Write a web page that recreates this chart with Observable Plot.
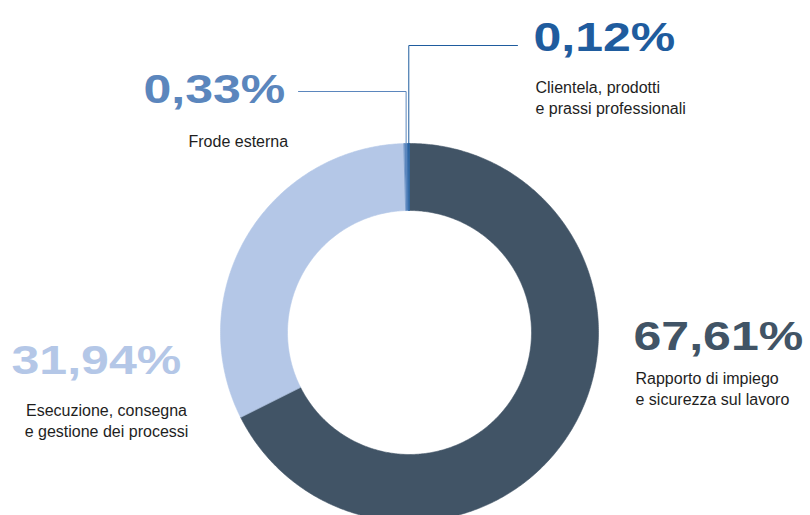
<!DOCTYPE html>
<html><head><meta charset="utf-8">
<script src="https://cdn.jsdelivr.net/npm/d3@7"></script>
<script src="https://cdn.jsdelivr.net/npm/@observablehq/plot@0.6"></script>
<style>body{margin:0;background:#fff;overflow:hidden;}</style>
</head><body><div id="chart"></div>
<script>
// ---- data ----
const categories = [
  "Rapporto di impiego\ne sicurezza sul lavoro",
  "Esecuzione, consegna\ne gestione dei processi",
  "Frode esterna",
  "Clientela, prodotti\ne prassi professionali"
];
const values = [67.61, 31.94, 0.33, 0.12];
const valueLabels = values.map(v => v.toFixed(2).replace(".", ",") + "%");

// ---- styles / layout ----
const colors = ["#415466", "#b4c7e7", "#5b86bd", "#1f5c9e"];
const W = 810, H = 515;
const cx = 409, cy = 332;
const R = 189, r = 122;
const bigStretch = 1.22;
const bigPos = [{x: 633, y: 349}, {x: 11, y: 373}, {x: 143, y: 102}, {x: 533, y: 50}];
const catPos = [
  {x: 635, y: 404, anchor: "start"},
  {x: 106, y: 436, anchor: "middle"},
  {x: 188, y: 146, anchor: "start"},
  {x: 535, y: 113, anchor: "start"}
];
const leaderLayout = {2: {y: 91, x: 298}, 3: {y: 45, x: 517}};

// ---- geometry from data ----
const arcs = d3.pie().sort(null).startAngle(0).endAngle(2 * Math.PI)(values);
const ringPts = [];
arcs.forEach((p, i) => {
  const n = Math.max(2, Math.ceil((p.endAngle - p.startAngle) / 0.01));
  const as = d3.range(n + 1).map(k => p.startAngle + (p.endAngle - p.startAngle) * k / n);
  as.forEach(a => ringPts.push({i, x: R * Math.sin(a), y: -R * Math.cos(a)}));
  as.slice().reverse().forEach(a => ringPts.push({i, x: r * Math.sin(a), y: -r * Math.cos(a)}));
});
const leaderPts = [];
Object.entries(leaderLayout).forEach(([k, L]) => {
  const i = +k, p = arcs[i];
  const a = (p.startAngle + p.endAngle) / 2;
  const sx = R * Math.sin(a), sy = -R * Math.cos(a);
  leaderPts.push({i, x: sx, y: sy}, {i, x: sx, y: L.y - cy}, {i, x: L.x - cx, y: L.y - cy});
});

const idx = d3.range(values.length);
const startIdx = idx.filter(i => catPos[i].anchor === "start");
const midIdx = idx.filter(i => catPos[i].anchor === "middle");

const chart = Plot.plot({
  width: W, height: H,
  margin: 0,
  style: {background: "#fff", overflow: "hidden"},
  x: {domain: [-cx, W - cx], range: [0, W], axis: null},
  y: {domain: [-cy, H - cy], range: [0, H], axis: null},
  color: {type: "ordinal", domain: idx, range: colors},
  marks: [
    Plot.line(ringPts, {x: "x", y: "y", z: "i", fill: "i", stroke: "i", strokeWidth: 0.6, curve: "linear-closed"}),
    Plot.line(leaderPts, {x: "x", y: "y", z: "i", stroke: "i", strokeWidth: 1}),
    Plot.text(idx, {
      x: i => bigPos[i].x - cx, y: i => bigPos[i].y - cy,
      text: i => valueLabels[i], fill: i => i,
      textAnchor: "start", lineAnchor: "bottom",
      fontSize: 41, fontFamily: "Liberation Sans, Arial, sans-serif", fontWeight: "bold"
    }),
    Plot.text(startIdx, {
      x: i => catPos[i].x - cx, y: i => catPos[i].y - cy,
      text: i => categories[i], fill: "#1e1e1e",
      textAnchor: "start", lineAnchor: "bottom", lineHeight: 1.3,
      fontSize: 16, fontFamily: "Liberation Sans, Arial, sans-serif"
    }),
    Plot.text(midIdx, {
      x: i => catPos[i].x - cx, y: i => catPos[i].y - cy,
      text: i => categories[i], fill: "#1e1e1e",
      textAnchor: "middle", lineAnchor: "bottom", lineHeight: 1.3,
      fontSize: 16, fontFamily: "Liberation Sans, Arial, sans-serif"
    })
  ]
});
document.getElementById("chart").appendChild(chart);
// widen the big percentage labels like the reference's expanded bold face
d3.select(chart).selectAll("text")
  .filter(function() { return valueLabels.includes(this.textContent.trim()); })
  .each(function() {
    const len = this.getComputedTextLength();
    if (len > 0) {
      this.setAttribute("textLength", (len * bigStretch).toFixed(1));
      this.setAttribute("lengthAdjust", "spacingAndGlyphs");
    }
  });
</script>
</body></html>
